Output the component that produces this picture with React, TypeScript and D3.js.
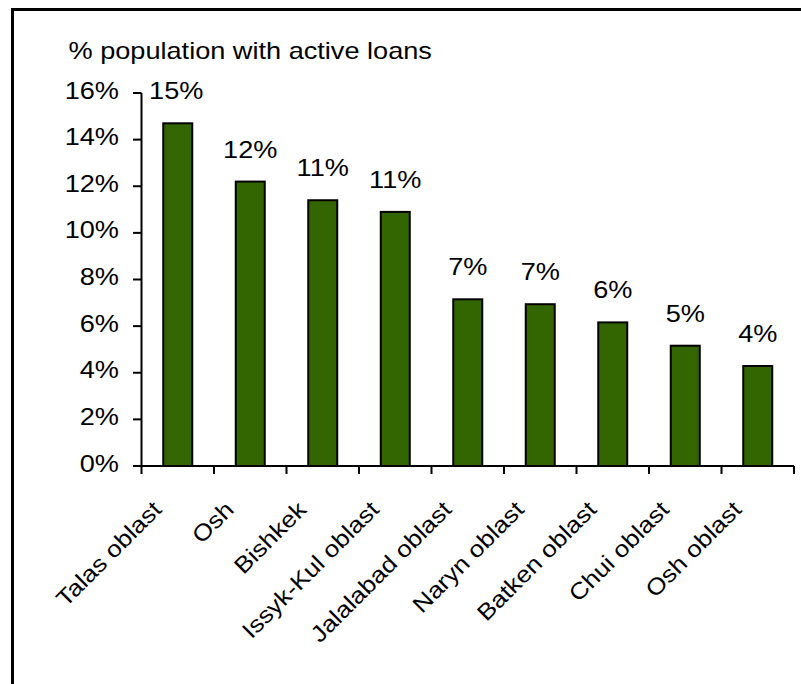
import React from "react";
import * as d3 from "d3";

const categories = [
  "Talas oblast",
  "Osh",
  "Bishkek",
  "Issyk-Kul oblast",
  "Jalalabad oblast",
  "Naryn oblast",
  "Batken oblast",
  "Chui oblast",
  "Osh oblast",
];
const values = [0.147, 0.122, 0.114, 0.109, 0.0715, 0.0694, 0.0616, 0.0516, 0.0429];
const yTicks = [0, 0.02, 0.04, 0.06, 0.08, 0.1, 0.12, 0.14, 0.16];
const title = "% population with active loans";

const W = 801;
const H = 684;
const FONT = "'Liberation Sans', Arial, sans-serif";
const FS = 23;
const SXH = 1.18;
const SXR = 1.13;

export default function App() {
  const x = d3
    .scaleBand<string>()
    .domain(categories)
    .range([141.5, 794])
    .paddingInner(0.6)
    .paddingOuter(0.3);
  const y = d3.scaleLinear().domain([0, 0.16]).range([466, 93]);
  const step = x.step();
  const x0 = x.range()[0];
  const pct = d3.format(".0%");
  const yBase = y(0);

  return (
    <svg
      width={W}
      height={H}
      style={{ position: "absolute", left: 0, top: 0, background: "#fff" }}
      fontFamily={FONT}
      fontSize={FS}
    >
      <rect x={0} y={0} width={W} height={H} fill="#fff" />
      <rect x={12.5} y={9.5} width={W + 20} height={H + 20} fill="none" stroke="#000" strokeWidth={3} />

      <g transform={`translate(68.5,59) scale(${SXH},1)`}>
        <text x={0} y={0} fill="#000">{title}</text>
      </g>

      {/* bars */}
      {categories.map((c, i) => (
        <rect
          key={c}
          x={x(c)}
          y={y(values[i])}
          width={x.bandwidth()}
          height={yBase - y(values[i])}
          fill="#336600"
          stroke="#000"
          strokeWidth={2}
        />
      ))}

      {/* value labels */}
      {categories.map((c, i) => (
        <g
          key={c + "-lbl"}
          transform={`translate(${(x(c) as number) + x.bandwidth() / 2 - (i === 0 ? 1.5 : 0)},${y(values[i]) - 24}) scale(${SXH},1)`}
        >
          <text textAnchor="middle" fill="#000">{pct(values[i])}</text>
        </g>
      ))}

      {/* y axis */}
      <line x1={141.5} x2={141.5} y1={y(0.16)} y2={yBase} stroke="#000" strokeWidth={2} />
      {yTicks.map((t) => (
        <g key={t}>
          <line x1={133} x2={141.5} y1={y(t)} y2={y(t)} stroke="#000" strokeWidth={2} />
          <g transform={`translate(119,${y(t) + 5.5}) scale(${SXH},1)`}>
            <text textAnchor="end" fill="#000">{pct(t)}</text>
          </g>
        </g>
      ))}

      {/* x axis */}
      <line x1={x0} x2={x0 + step * categories.length} y1={yBase} y2={yBase} stroke="#000" strokeWidth={2} />
      {d3.range(categories.length + 1).map((i) => (
        <line
          key={"xt" + i}
          x1={x0 + i * step}
          x2={x0 + i * step}
          y1={yBase}
          y2={yBase + 8}
          stroke="#000"
          strokeWidth={2}
        />
      ))}
      {categories.map((c) => {
        const cx = (x(c) as number) + x.bandwidth() / 2;
        return (
          <g key={c + "-x"} transform={`translate(${cx - 15},511) rotate(-45) scale(${SXR},1)`}>
            <text textAnchor="end" fill="#000">{c}</text>
          </g>
        );
      })}
    </svg>
  );
}
